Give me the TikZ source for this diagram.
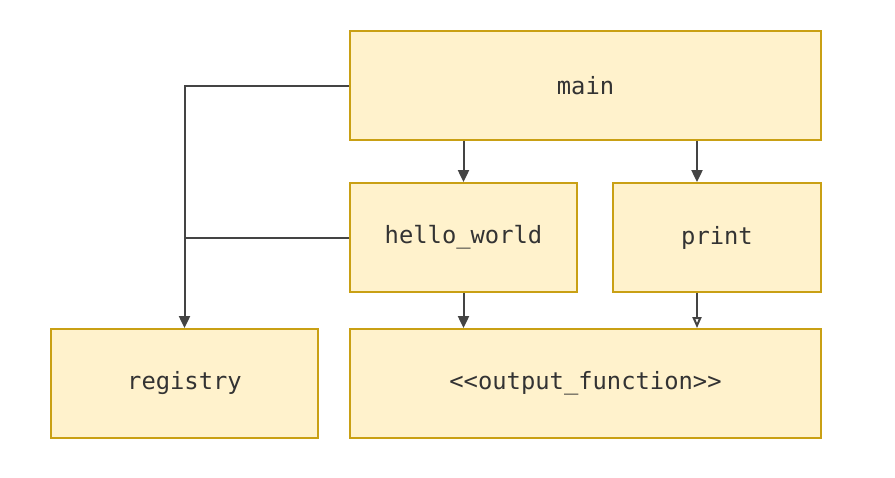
\documentclass[tikz,border=0pt]{standalone}
\usepackage{fontspec}
\setmonofont{DejaVu Sans Mono}
\usetikzlibrary{arrows.meta}
\definecolor{boxfill}{HTML}{FFF2CC}
\definecolor{boxline}{HTML}{C9A014}
\definecolor{wire}{HTML}{444444}
\definecolor{txt}{HTML}{333333}
\tikzset{
  modbox/.style={draw=boxline, fill=boxfill, line width=1.8pt, minimum height=109pt,
    inner sep=0pt, text=txt, font=\fontsize{23.8}{28}\selectfont\ttfamily},
  wireline/.style={draw=wire, line width=2pt},
  dep/.style={wireline, -{Triangle[length=12pt,width=11pt]}},
  impl/.style={wireline, -{Triangle[open,length=11pt,width=9pt]}}
}
\begin{document}
\begin{tikzpicture}[x=1pt,y=-1pt]
		\useasboundingbox (0,0) rectangle (895,477);
		\node[modbox, minimum width=471pt] (main) at (585.5,85.5) {main};
		\node[modbox, minimum width=227pt] (hello) at (463.5,237.5) {hello\_world};
		\node[modbox, minimum width=208pt] (print) at (717,237.5) {print};
		\node[modbox, minimum width=267pt] (registry) at (184.5,383.5) {registry};
		\node[modbox, minimum width=471pt] (output) at (585.5,383.5) {<{}<output\_function>{}>};
		\draw[dep] (main.west) -| (registry.north);
		\draw[wireline] (hello.west) -- (hello.west -| registry.north);
		\draw[dep] (main.south -| hello.north) -- (hello.north);
		\draw[dep] ([xshift=-20pt]print.north |- main.south) -- ([xshift=-20pt]print.north);
		\draw[dep] (hello.south) -- (hello.south |- output.north);
		\draw[impl] ([xshift=-20pt]print.south) -- ([xshift=-20pt]print.south |- output.north);
		\end{tikzpicture}
\end{document}
